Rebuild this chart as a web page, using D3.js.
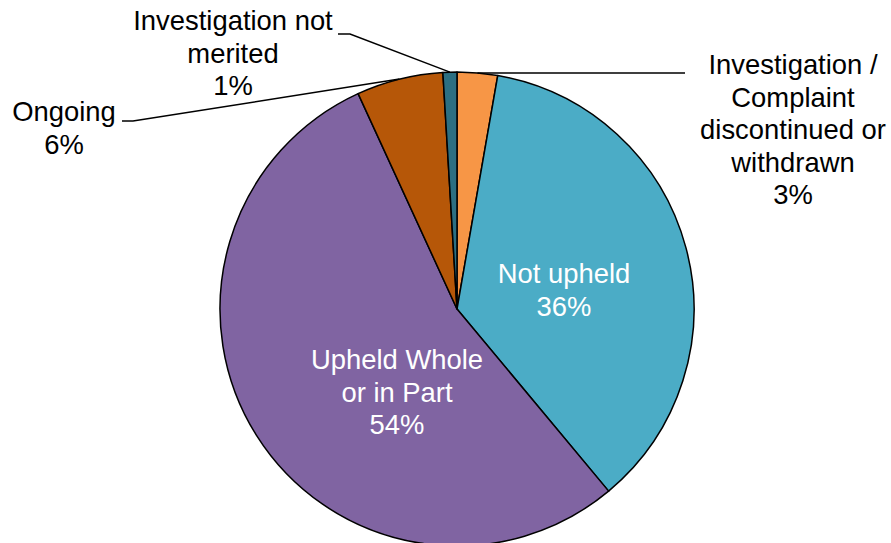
<!DOCTYPE html>
<html><head><meta charset="utf-8">
<script src="https://cdn.jsdelivr.net/npm/d3@7"></script>
<style>body{margin:0;background:#fff}text{font-family:"Liberation Sans",Arial,sans-serif}</style>
</head><body>
<svg id="c" width="891" height="543"></svg>
<script>
const categories = ["Investigation / Complaint discontinued or withdrawn", "Not upheld", "Upheld Whole or in Part", "Ongoing", "Investigation not merited"];
const values = [2.75, 36.2, 54.2, 5.9, 0.95];
const labelLines = [["Investigation /","Complaint","discontinued or","withdrawn"],["Not upheld"],["Upheld Whole","or in Part"],["Ongoing"],["Investigation not","merited"]];
const colors = ["#F79646", "#4BACC6", "#8064A2", "#B65708", "#2C6F82"];

// layout (not data)
const cx = 457, cy = 309, R = 237, fs = 27.4, lh = 32.5;
const labelLayout = [
  {x:793, y:74, fill:"#000", leader:[[685,73],[480,73]]},
  {x:564, y:283, fill:"#fff"},
  {x:397, y:369, fill:"#fff"},
  {x:64, y:121, fill:"#000", leader:[[122,121],[133,121]]},
  {x:233, y:30, fill:"#000", leader:[[338,34],[350,34]]}
];

const svg = d3.select("#c");
const g = svg.append("g").attr("transform", `translate(${cx},${cy})`);
const pie = d3.pie().sort(null).value(d => d)(values);
const arc = d3.arc().innerRadius(0).outerRadius(R);
g.selectAll("path.s").data(pie).join("path").attr("class","s")
  .attr("d", arc).attr("fill", (d,i) => colors[i])
  .attr("stroke", "#000").attr("stroke-width", 1.5).attr("stroke-linejoin","round");

const total = d3.sum(values);
pie.forEach((d, i) => {
  const L = labelLayout[i];
  const lines = labelLines[i].concat([Math.round(values[i] / total * 100) + "%"]);
  if (L.leader) {
    const mid = (d.startAngle + d.endAngle) / 2;
    const ex = cx + R * Math.sin(mid), ey = cy - R * Math.cos(mid);
    const pts = L.leader.concat([[ex, ey]]);
    svg.append("path").attr("d", d3.line()(pts)).attr("fill","none")
      .attr("stroke","#000").attr("stroke-width",1.5);
  }
  const t = svg.append("text").attr("text-anchor","middle").attr("font-size", fs).attr("fill", L.fill);
  lines.forEach((s, k) => t.append("tspan").attr("x", L.x).attr("y", L.y + k * lh).text(s));
});
</script>
</body></html>
